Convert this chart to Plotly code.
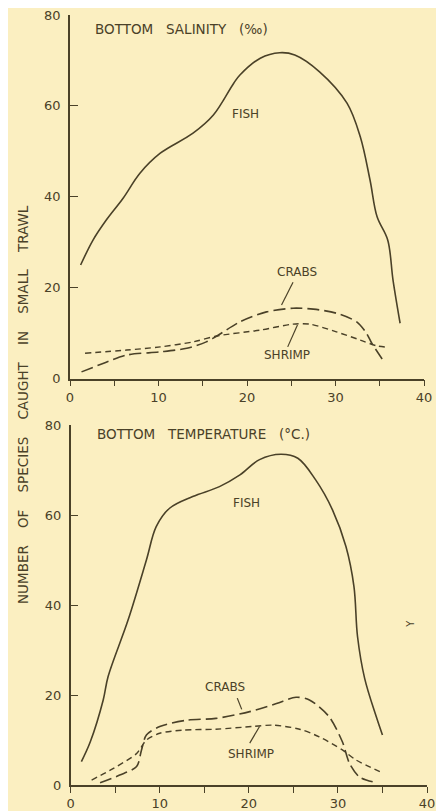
import plotly.graph_objects as go

# top panel: bottom salinity (per mille)
sal_fish_x = [1.2, 2.6, 4.1, 6.0, 7.9, 10.2, 13.9, 16.2, 18.5, 19.2, 21.5, 23.7, 25.4,
              28.2, 31.3, 32.8, 33.9, 34.7, 35.9, 36.5, 37.3]
sal_fish_y = [25.0, 30.5, 34.9, 39.7, 45.2, 49.6, 54.0, 58.0, 65.0, 66.8, 70.5, 71.7, 71.2,
              67.5, 60.6, 53.2, 43.7, 35.6, 30.5, 21.7, 12.2]
sal_crab_x = [1.3, 3.8, 6.4, 10.2, 13.2, 15.4, 16.6, 19.2, 22.2, 25.2, 27.5, 30.1, 32.4,
              33.5, 34.1, 35.6]
sal_crab_y = [1.5, 3.4, 5.2, 5.9, 6.7, 8.1, 9.4, 12.5, 14.7, 15.5, 15.3, 14.4, 12.5,
              10.0, 7.8, 3.4]
sal_shrimp_x = [1.7, 6.4, 10.2, 13.9, 16.6, 21.5, 25.2, 27.1, 30.1, 32.8, 34.7, 36.0]
sal_shrimp_y = [5.6, 6.3, 7.0, 8.1, 9.4, 10.7, 12.0, 12.0, 10.3, 8.5, 7.2, 6.9]

# bottom panel: bottom temperature (deg C)
tmp_fish_x = [1.2, 2.2, 3.65, 4.2, 6.45, 8.5, 9.6, 11.1, 13.7, 16.7, 19.0, 21.2, 23.6,
              25.5, 27.5, 29.4, 30.9, 31.8, 32.2, 33.0, 34.3, 35.0]
tmp_fish_y = [5.2, 9.6, 18.9, 24.1, 36.7, 50.0, 57.4, 61.5, 64.1, 66.3, 68.9, 72.3, 73.5,
              72.6, 67.8, 61.1, 53.0, 44.1, 33.0, 23.7, 15.2, 11.1]
tmp_crab_x = [3.3, 5.5, 7.4, 7.95, 8.5, 10.0, 13.0, 16.3, 20.1, 23.1, 25.3, 26.8, 29.0,
              30.5, 31.3, 32.4, 33.9]
tmp_crab_y = [0.5, 2.2, 4.1, 7.8, 11.1, 13.0, 14.4, 14.8, 16.3, 18.1, 19.5, 18.9, 15.2,
              9.6, 4.8, 1.8, 0.7]
tmp_shrimp_x = [2.35, 4.8, 7.4, 8.5, 10.0, 12.6, 16.3, 20.4, 22.7, 25.7, 27.9, 30.5,
                32.0, 35.0]
tmp_shrimp_y = [1.1, 3.7, 7.0, 10.0, 11.5, 12.2, 12.4, 13.0, 13.3, 12.4, 10.7, 7.8,
                5.6, 2.7]

x_ticks = [0, 5, 10, 15, 20, 25, 30, 35, 40]
x_ticktext = ['0', '', '10', '', '20', '', '30', '', '40']
y_ticks = [0, 20, 40, 60, 80]

INK = '#4a4128'
PAPER = '#fbefc1'
FONT = 'DejaVu Sans'
SP = '\u00a0\u00a0\u00a0'
W, H = 444, 811
OFF = 8  # page body margin pushes the figure 8px right and down


def px_x(p):
    return (p - OFF) / W


def px_y(p):
    return 1 - (p - OFF) / H


fig = go.Figure()


def add_panel(fig, xa, ya, fish, crab, shrimp):
    fig.add_trace(go.Scatter(x=fish[0], y=fish[1], xaxis=xa, yaxis=ya, mode='lines',
                             line=dict(color=INK, width=1.6, shape='spline', smoothing=1.0)))
    fig.add_trace(go.Scatter(x=crab[0], y=crab[1], xaxis=xa, yaxis=ya, mode='lines',
                             line=dict(color=INK, width=1.6, shape='spline', smoothing=0.8,
                                       dash='12px,5px')))
    fig.add_trace(go.Scatter(x=shrimp[0], y=shrimp[1], xaxis=xa, yaxis=ya, mode='lines',
                             line=dict(color=INK, width=1.4, shape='spline', smoothing=0.8,
                                       dash='6px,4px')))


add_panel(fig, 'x', 'y', (sal_fish_x, sal_fish_y), (sal_crab_x, sal_crab_y),
          (sal_shrimp_x, sal_shrimp_y))
add_panel(fig, 'x2', 'y2', (tmp_fish_x, tmp_fish_y), (tmp_crab_x, tmp_crab_y),
          (tmp_shrimp_x, tmp_shrimp_y))

xaxis_style = dict(range=[0, 40], tickvals=x_ticks, ticktext=x_ticktext, ticks='outside',
                   ticklen=6, tickwidth=1.3, tickcolor=INK, showline=True, linecolor=INK,
                   linewidth=1.5, showgrid=False, zeroline=False, automargin=False,
                   ticklabeloverflow='allow',
                   tickfont=dict(family=FONT, size=13, color=INK))
yaxis_style = dict(range=[0, 80], tickvals=y_ticks, ticks='inside', ticklen=8, tickwidth=1.3,
                   tickcolor=INK, showline=True, linecolor=INK, linewidth=1.5,
                   showgrid=False, zeroline=False, ticklabelstandoff=5, automargin=False,
                   ticklabeloverflow='allow',
                   tickfont=dict(family=FONT, size=13, color=INK))

fig.update_layout(
    width=W, height=H,
    margin=dict(l=0, r=0, t=0, b=0),
    paper_bgcolor=PAPER, plot_bgcolor=PAPER,
    showlegend=False,
    xaxis=dict(domain=[px_x(70), px_x(424)], anchor='y', **xaxis_style),
    yaxis=dict(domain=[px_y(378.7), px_y(15)], anchor='x', **yaxis_style),
    xaxis2=dict(domain=[px_x(70.7), px_x(427)], anchor='y2', **xaxis_style),
    yaxis2=dict(domain=[px_y(785), px_y(425)], anchor='x2', **yaxis_style),
)

lab = dict(family=FONT, size=12, color=INK)
head = dict(family=FONT, size=13.5, color=INK)
notes = [
    dict(x=2.6, y=76.9, xref='x', yref='y', xanchor='left',
         text=SP.join(['BOTTOM', 'SALINITY', '(‰)']), font=head),
    dict(x=19.8, y=58.2, xref='x', yref='y', text='FISH'),
    dict(x=25.6, y=23.4, xref='x', yref='y', text='CRABS'),
    dict(x=24.5, y=5.2, xref='x', yref='y', text='SHRIMP'),
    dict(x=2.7, y=77.9, xref='x2', yref='y2', xanchor='left',
         text=SP.join(['BOTTOM', 'TEMPERATURE', '(°C.)']), font=head),
    dict(x=19.7, y=62.7, xref='x2', yref='y2', text='FISH'),
    dict(x=17.3, y=21.7, xref='x2', yref='y2', text='CRABS'),
    dict(x=20.2, y=7.0, xref='x2', yref='y2', text='SHRIMP'),
    dict(x=38.2, y=35.8, xref='x2', yref='y2', text='Y', textangle=-90,
         font=dict(family=FONT, size=10, color=INK)),
    dict(x=px_x(23), y=px_y(405), xref='paper', yref='paper', xanchor='center', yanchor='middle',
         text=(SP + '\u00a0').join(['NUMBER', 'OF', 'SPECIES', 'CAUGHT', 'IN', 'SMALL', 'TRAWL']),
         textangle=-90, font=head),
]
for n in notes:
    n.setdefault('font', lab)
    fig.add_annotation(showarrow=False, **n)

# leader lines from labels to curves
leaders = [
    ('x', 'y', 25.2, 21.2, 23.9, 16.2),
    ('x', 'y', 25.7, 11.8, 24.6, 7.0),
    ('x2', 'y2', 18.7, 19.3, 19.2, 16.8),
    ('x2', 'y2', 20.1, 9.3, 21.2, 13.0),
]
for xr, yr, x0, y0, x1, y1 in leaders:
    fig.add_shape(type='line', xref=xr, yref=yr, x0=x0, y0=y0, x1=x1, y1=y1,
                  line=dict(color=INK, width=1.2))

fig.write_html("out.html")
